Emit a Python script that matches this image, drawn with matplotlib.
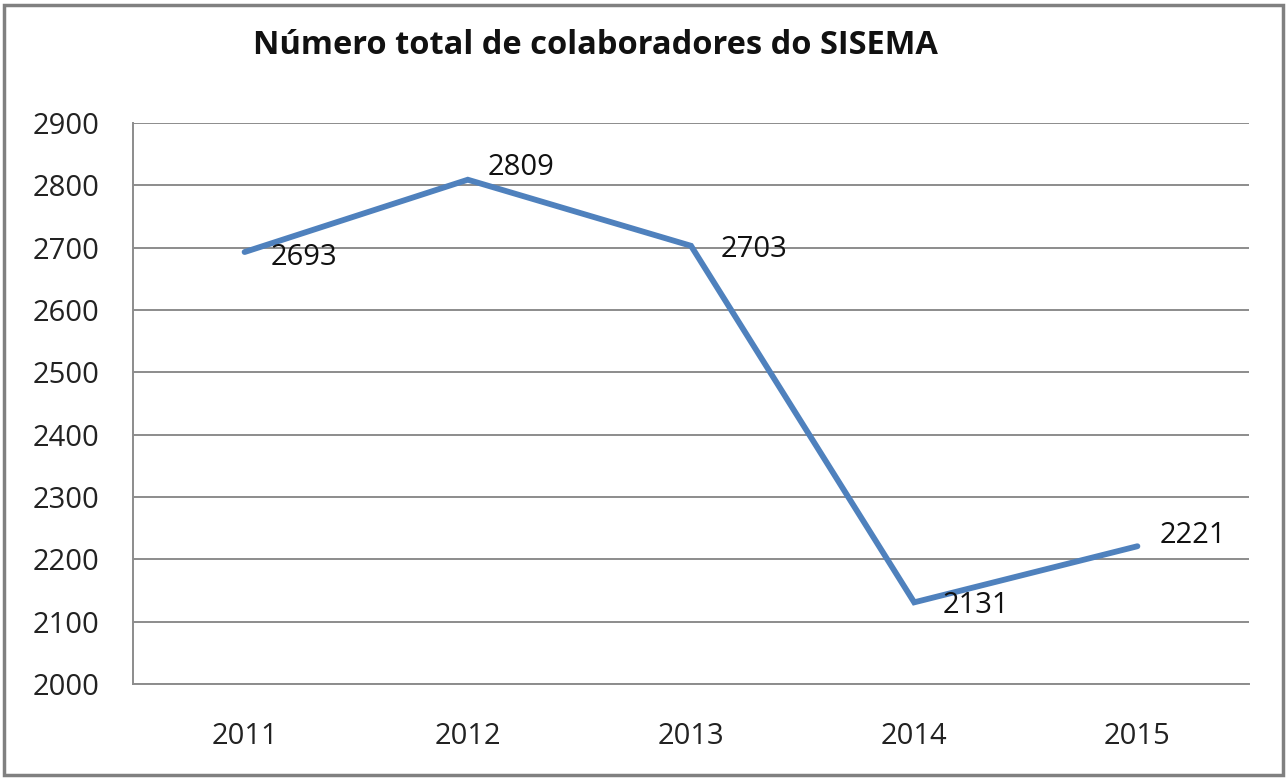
import matplotlib
matplotlib.use("Agg")
import matplotlib.pyplot as plt
from matplotlib.patches import Rectangle

years = ["2011", "2012", "2013", "2014", "2015"]
values = [2693, 2809, 2703, 2131, 2221]
yticks = [2000, 2100, 2200, 2300, 2400, 2500, 2600, 2700, 2800, 2900]
title = "Número total de colaboradores do SISEMA"

plt.rcParams['font.family'] = ['Open Sans', 'DejaVu Sans']

fig = plt.figure(figsize=(12.87, 7.79), dpi=100)
ax = fig.add_axes([133/1287, 95/779, (1249-133)/1287, (684-123)/779])

x = list(range(len(years)))
ax.plot(x, values, color='#4F81BD', linewidth=4.2, solid_capstyle='round', solid_joinstyle='miter', zorder=3)

# data labels (Excel-like "right" positions)
offsets = [(19, -4), (14.5, 9), (21, -3), (20.5, -2), (16, 8)]
for xi, v, (dx, dy) in zip(x, values, offsets):
    ax.annotate(str(v), (xi, v), xytext=(dx, dy), textcoords='offset points',
                ha='left', va='center', fontsize=21, color='#111111', zorder=4)

ax.set_xlim(-0.5, len(years) - 0.5)
ax.set_ylim(2000, 2900)
ax.set_yticks(yticks)
ax.set_xticks(x)
ax.set_xticklabels(years)
ax.tick_params(axis='both', length=0, labelsize=21, colors='#222222')
ax.tick_params(axis='y', pad=24)
ax.tick_params(axis='x', pad=27)
ax.grid(axis='y', color='#8c8c8c', linewidth=1.4)
ax.set_axisbelow(True)
for s in ['top', 'right']:
    ax.spines[s].set_visible(False)
for s in ['left', 'bottom']:
    ax.spines[s].set_color('#8c8c8c')
    ax.spines[s].set_linewidth(1.4)

fig.text(595/1287, 1 - 45/779, title, ha='center', va='center',
         fontsize=23.5, fontweight='bold', color='#111111')

fig.patches.append(Rectangle((4/1287, 4/779), 1279/1287, 770/779, transform=fig.transFigure,
                             fill=False, edgecolor='#808080', linewidth=2.5))

fig.savefig('out.png', dpi=100)
